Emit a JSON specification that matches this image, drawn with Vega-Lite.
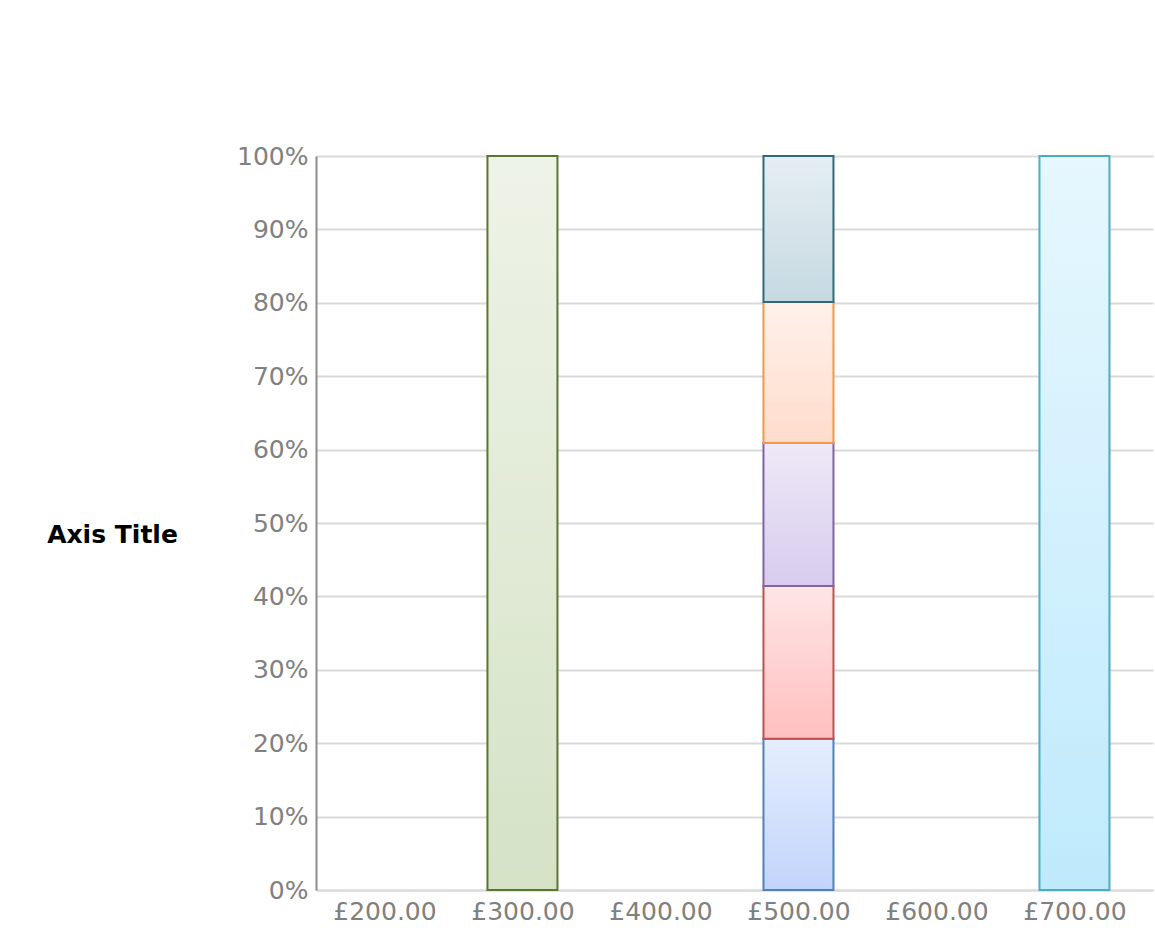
{
  "$schema": "https://vega.github.io/schema/vega-lite/v6.json",
  "width": 837,
  "height": 734,
  "autosize": {"type": "none"},
  "padding": {"left": 316, "top": 156, "right": 2, "bottom": 50},
  "background": "white",
  "config": {"view": {"stroke": null}, "font": "DejaVu Sans"},
  "data": {
    "values": [
      {"price": 300, "series": "Series 1", "value": 100},
      {"price": 500, "series": "Series 2", "value": 20.6},
      {"price": 500, "series": "Series 3", "value": 20.8},
      {"price": 500, "series": "Series 4", "value": 19.5},
      {"price": 500, "series": "Series 5", "value": 19.2},
      {"price": 500, "series": "Series 6", "value": 19.9},
      {"price": 700, "series": "Series 7", "value": 100}
    ]
  },
  "transform": [
    {
      "stack": "value",
      "groupby": ["price"],
      "sort": [{"field": "series", "order": "ascending"}],
      "offset": "normalize",
      "as": ["y0", "y1"]
    }
  ],
  "encoding": {
    "x": {
      "field": "price",
      "type": "quantitative",
      "scale": {"domain": [150.4, 756.9], "nice": false, "zero": false, "padding": 0},
      "axis": {
        "title": null,
        "grid": false,
        "values": [200, 300, 400, 500, 600, 700],
        "labelExpr": "'£' + format(datum.value, '.2f')",
        "domainColor": "#d9d9d9",
        "domainWidth": 2,
        "ticks": false,
        "labelColor": "#808080",
        "labelFontSize": 25,
        "labelPadding": 9,
        "labelFont": "DejaVu Sans"
      }
    },
    "y": {
      "field": "y0",
      "type": "quantitative",
      "scale": {"domain": [0, 1], "nice": false},
      "axis": {
        "title": "Axis Title",
        "titleAngle": 0,
        "titleFontWeight": "bold",
        "titleFontSize": 25,
        "titleColor": "#000000",
        "titleFont": "DejaVu Sans",
        "titleX": -204,
        "titleY": 378,
        "titleAlign": "center",
        "titleBaseline": "middle",
        "values": [0, 0.1, 0.2, 0.3, 0.4, 0.5, 0.6, 0.7, 0.8, 0.9, 1],
        "format": ".0%",
        "grid": true,
        "gridColor": "#d9d9d9",
        "gridWidth": 2,
        "domainColor": "#8c8c8c",
        "domainWidth": 2,
        "ticks": false,
        "labelPadding": 8,
        "labelColor": "#808080",
        "labelFontSize": 25,
        "labelFont": "DejaVu Sans"
      }
    },
    "y2": {"field": "y1"}
  },
  "layer": [
    {
      "transform": [{"filter": "datum.series === 'Series 1'"}],
      "mark": {"type": "bar", "size": 70, "strokeWidth": 2, "stroke": "#5a7630",
        "fill": {"gradient": "linear", "x1": 0, "y1": 0, "x2": 0, "y2": 1,
          "stops": [{"offset": 0, "color": "#eef3e7"}, {"offset": 1, "color": "#d5e2c6"}]}}
    },
    {
      "transform": [{"filter": "datum.series === 'Series 2'"}],
      "mark": {"type": "bar", "size": 70, "strokeWidth": 2, "stroke": "#4f81bd",
        "fill": {"gradient": "linear", "x1": 0, "y1": 0, "x2": 0, "y2": 1,
          "stops": [{"offset": 0, "color": "#e5eefd"}, {"offset": 1, "color": "#c2d4fb"}]}}
    },
    {
      "transform": [{"filter": "datum.series === 'Series 3'"}],
      "mark": {"type": "bar", "size": 70, "strokeWidth": 2, "stroke": "#c0504d",
        "fill": {"gradient": "linear", "x1": 0, "y1": 0, "x2": 0, "y2": 1,
          "stops": [{"offset": 0, "color": "#ffe5e5"}, {"offset": 1, "color": "#ffbfbf"}]}}
    },
    {
      "transform": [{"filter": "datum.series === 'Series 4'"}],
      "mark": {"type": "bar", "size": 70, "strokeWidth": 2, "stroke": "#8064a2",
        "fill": {"gradient": "linear", "x1": 0, "y1": 0, "x2": 0, "y2": 1,
          "stops": [{"offset": 0, "color": "#eee9f7"}, {"offset": 1, "color": "#d8cbee"}]}}
    },
    {
      "transform": [{"filter": "datum.series === 'Series 5'"}],
      "mark": {"type": "bar", "size": 70, "strokeWidth": 2, "stroke": "#f79646",
        "fill": {"gradient": "linear", "x1": 0, "y1": 0, "x2": 0, "y2": 1,
          "stops": [{"offset": 0, "color": "#fff1ea"}, {"offset": 1, "color": "#ffdccd"}]}}
    },
    {
      "transform": [{"filter": "datum.series === 'Series 6'"}],
      "mark": {"type": "bar", "size": 70, "strokeWidth": 2, "stroke": "#2f6a7b",
        "fill": {"gradient": "linear", "x1": 0, "y1": 0, "x2": 0, "y2": 1,
          "stops": [{"offset": 0, "color": "#e5eef3"}, {"offset": 1, "color": "#c6d9e1"}]}}
    },
    {
      "transform": [{"filter": "datum.series === 'Series 7'"}],
      "mark": {"type": "bar", "size": 70, "strokeWidth": 2, "stroke": "#4bacc6",
        "fill": {"gradient": "linear", "x1": 0, "y1": 0, "x2": 0, "y2": 1,
          "stops": [{"offset": 0, "color": "#e6f7fe"}, {"offset": 1, "color": "#bfeafc"}]}}
    }
  ]
}
